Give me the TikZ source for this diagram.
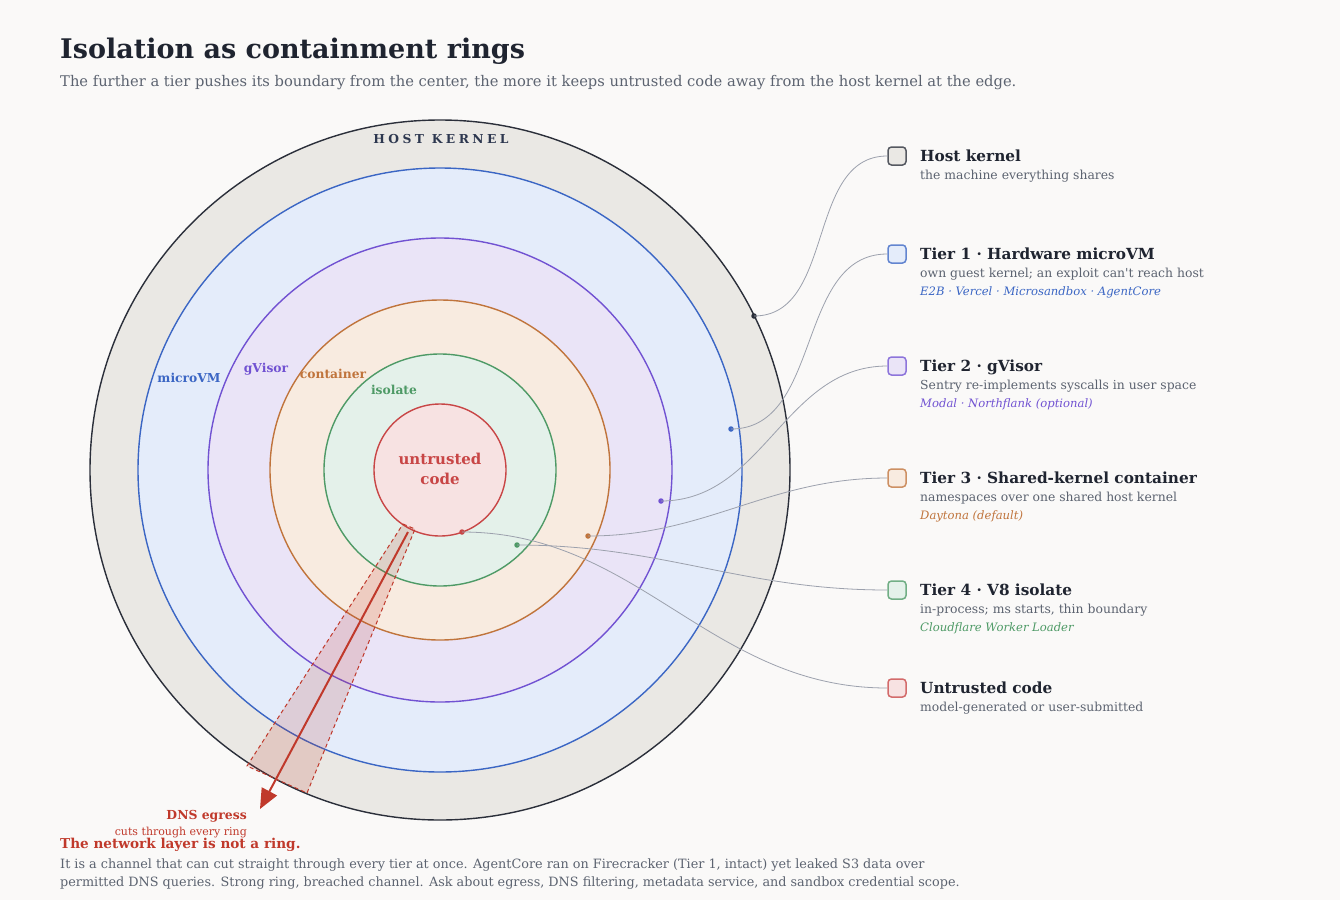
\documentclass[tikz,border=0pt]{standalone}
\usepackage{fontspec}
\setmainfont{DejaVu Serif}
\usetikzlibrary{arrows.meta, positioning}
\definecolor{cpaper}{HTML}{FAF9F8}
\definecolor{cink}{HTML}{1F2430}
\definecolor{cgrey}{HTML}{5C6370}
\definecolor{cleader}{HTML}{9CA1AD}
\definecolor{ckern}{HTML}{2B2F3A}
\definecolor{ckernfill}{HTML}{EAE8E4}
\definecolor{cvm}{HTML}{3B66C4}
\definecolor{cvmfill}{HTML}{E4ECFA}
\definecolor{cgv}{HTML}{7152D2}
\definecolor{cgvfill}{HTML}{EAE4F7}
\definecolor{cct}{HTML}{C0743C}
\definecolor{cctfill}{HTML}{F8EBE0}
\definecolor{ciso}{HTML}{4E9A66}
\definecolor{cisofill}{HTML}{E4F1EA}
\definecolor{cun}{HTML}{C84646}
\definecolor{cunfill}{HTML}{F7E2E2}
\definecolor{cegress}{HTML}{C0392B}
\newcommand{\fs}[1]{\fontsize{#1}{#1}\selectfont}

\begin{document}
\begin{tikzpicture}[
  x=1pt, y=-1pt,
  ring/.style={circle, inner sep=0pt, minimum size=#1, line width=1.4pt},
  ringlbl/.style={font=\fs{12.3}\bfseries, inner sep=0pt},
  key/.style={rounded corners=3.5pt, minimum size=18pt, inner sep=0pt, line width=1.5pt},
  head/.style={anchor=base west, inner sep=0pt, text=cink, font=\fs{15.3}\bfseries},
  desc/.style={anchor=base west, inner sep=0pt, text=cgrey, font=\fs{12.4}},
  vendor/.style={anchor=base west, inner sep=0pt, font=\fs{11.6}\itshape},
  dot/.style={circle, inner sep=0pt, minimum size=5.5pt},
  leader/.style={draw=cleader, line width=0.8pt},
  para/.style={anchor=base west, inner sep=0pt, text=cgrey, font=\fs{12.8}}
]
\useasboundingbox[fill=cpaper] (0,0) rectangle (1340,900);

% title
\node[anchor=base west, inner sep=0pt, text=cink, font=\fs{27}\bfseries] (title) at (60,58) {Isolation as containment rings};
\node[anchor=base west, inner sep=0pt, text=cgrey, font=\fs{14.7}] (sub) at (60,86) {The further a tier pushes its boundary from the center, the more it keeps untrusted code away from the host kernel at the edge.};

% rings
\coordinate (c) at (440,470);
\node[ring=700pt, draw=ckern, fill=ckernfill] (kern) at (c) {};
\node[ring=604pt, draw=cvm, fill=cvmfill] (vm) at (c) {};
\node[ring=464pt, draw=cgv, fill=cgvfill] (gv) at (c) {};
\node[ring=340pt, draw=cct, fill=cctfill] (ct) at (c) {};
\node[ring=232pt, draw=ciso, fill=cisofill] (iso) at (c) {};
\node[ring=132pt, draw=cun, fill=cunfill] (un) at (c) {};

\node[ringlbl, text=ckern!85!cvm] (lkern) at (441,139) {\addfontfeature{LetterSpace=28}HOST KERNEL};
\node[ringlbl, text=cvm] (lvm) at (189,378) {microVM};
\node[ringlbl, text=cgv] (lgv) at (266,369) {gVisor};
\node[ringlbl, text=cct] (lct) at (333,374) {container};
\node[ringlbl, text=ciso] (liso) at (394,390) {isolate};
\node[text=cun, font=\fs{15}\bfseries, align=center, inner sep=0pt] (lun) at (440,469) {untrusted\\[5pt]code};

% egress channel
\coordinate (w1) at (403,524);
\coordinate (w2) at (415,529);
\coordinate (w3) at (307,793);
\coordinate (w4) at (247,766);
\draw[cegress, dashed, dash pattern=on 4pt off 3pt, line width=1pt, fill=cegress, fill opacity=0.17]
  (w1) -- (w2) -- (w3) -- (w4) -- cycle;
\coordinate (eg0) at (408,532);
\coordinate (eg1) at (260,809);
\draw[cegress, line width=2pt, -{Triangle[length=20pt, width=17pt]}] (eg0) -- (eg1);
\node[anchor=base east, inner sep=0pt, text=cegress, font=\fs{12.4}\bfseries] (dns) at (247,819) {DNS egress};
\node[anchor=base east, inner sep=0pt, text=cegress, font=\fs{11}] (cuts) at (247,835) {cuts through every ring};

% legend keys
\node[key, draw=ckern!80, fill=ckernfill] (kk) at (897,156) {};
\node[key, draw=cvm!80, fill=cvmfill] (kvm) at (897,254) {};
\node[key, draw=cgv!80, fill=cgvfill] (kgv) at (897,366) {};
\node[key, draw=cct!80, fill=cctfill] (kct) at (897,478) {};
\node[key, draw=ciso!80, fill=cisofill] (kiso) at (897,590) {};
\node[key, draw=cun!80, fill=cunfill] (kun) at (897,688) {};

% legend text
\node[head] (hk) at (920,161) {Host kernel};
\node[desc] at (920,179) {the machine everything shares};

\node[head] (hvm) at (920,259) {Tier 1 · Hardware microVM};
\node[desc] at (920,277) {own guest kernel; an exploit can\textquotesingle t reach host};
\node[vendor, text=cvm] at (920,295) {E2B · Vercel · Microsandbox · AgentCore};

\node[head] (hgv) at (920,371) {Tier 2 · gVisor};
\node[desc] at (920,389) {Sentry re-implements syscalls in user space};
\node[vendor, text=cgv] at (920,407) {Modal · Northflank (optional)};

\node[head] (hct) at (920,483) {Tier 3 · Shared-kernel container};
\node[desc] at (920,501) {namespaces over one shared host kernel};
\node[vendor, text=cct] at (920,519) {Daytona (default)};

\node[head] (hiso) at (920,595) {Tier 4 · V8 isolate};
\node[desc] at (920,613) {in-process; ms starts, thin boundary};
\node[vendor, text=ciso] at (920,631) {Cloudflare Worker Loader};

\node[head] (hun) at (920,693) {Untrusted code};
\node[desc] at (920,711) {model-generated or user-submitted};

% leader dots
\node[dot, fill=ckern] (dk) at (754,316) {};
\node[dot, fill=cvm] (dvm) at (731,429) {};
\node[dot, fill=cgv] (dgv) at (661,501) {};
\node[dot, fill=cct] (dct) at (588,536) {};
\node[dot, fill=ciso] (diso) at (517,545) {};
\node[dot, fill=cun] (dun) at (462,532) {};

\draw[leader] (dk.center) to[out=0, in=180] (kk.west);
\draw[leader] (dvm.center) to[out=0, in=180] (kvm.west);
\draw[leader] (dgv.center) to[out=0, in=180] (kgv.west);
\draw[leader] (dct.center) to[out=0, in=180] (kct.west);
\draw[leader] (diso.center) to[out=0, in=180] (kiso.west);
\draw[leader] (dun.center) to[out=0, in=180] (kun.west);

% footnote
\node[anchor=base west, inner sep=0pt, text=cegress, font=\fs{13.6}\bfseries] (warn) at (60,848) {The network layer is not a ring.};
\node[para] (p1) at (60,868) {It is a channel that can cut straight through every tier at once. AgentCore ran on Firecracker (Tier 1, intact) yet leaked S3 data over};
\node[para] (p2) at (60,886) {permitted DNS queries. Strong ring, breached channel. Ask about egress, DNS filtering, metadata service, and sandbox credential scope.};
\end{tikzpicture}
\end{document}
